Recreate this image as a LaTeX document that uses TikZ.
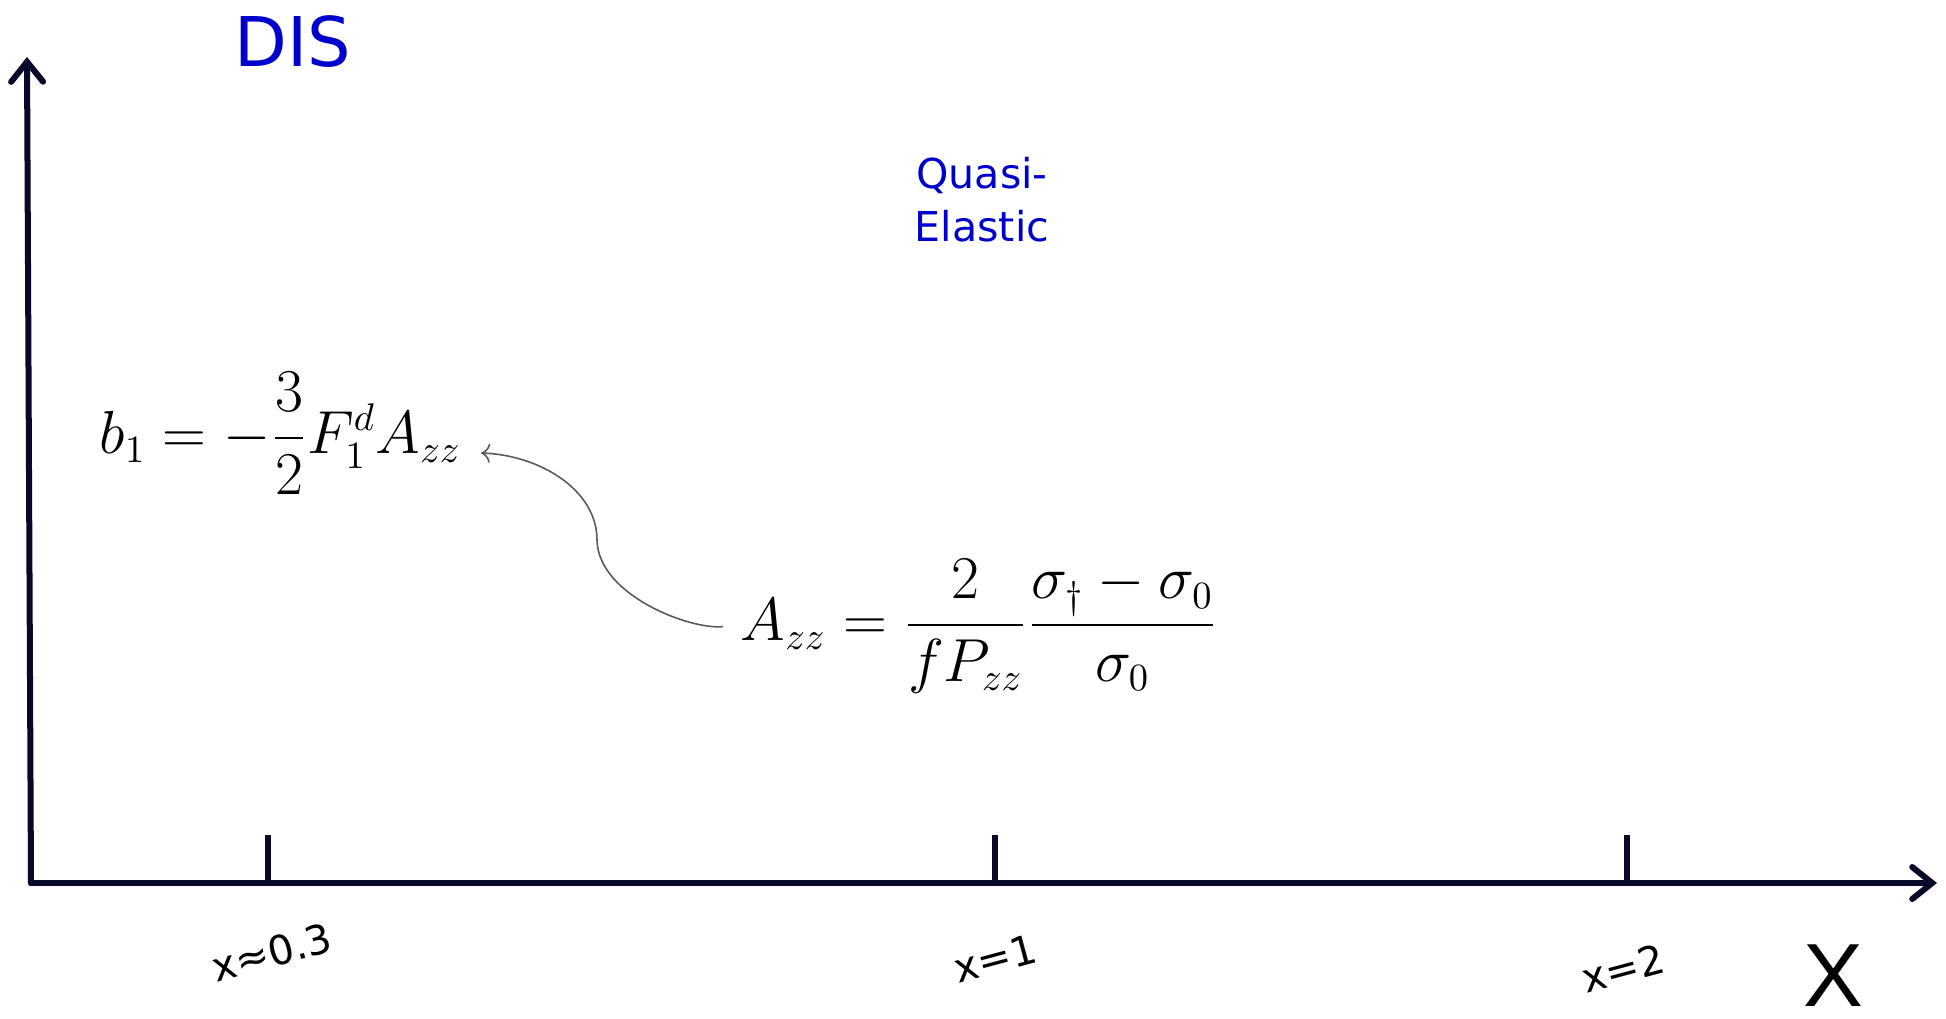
\documentclass[tikz,border=0pt]{standalone}
\usepackage{amsmath,amssymb}
\usepackage{fontspec}
\usepackage{tikz}
\usetikzlibrary{arrows.meta,calc,positioning}

\newfontfamily\regionfont{DejaVu Sans}
\newfontfamily\axisfont{Liberation Sans}
\definecolor{axisnavy}{RGB}{8,8,40}
\definecolor{regionblue}{RGB}{0,0,204}

\begin{document}
\begin{tikzpicture}[
  x=0.01cm, y=-0.01cm,
  axis/.style={draw=axisnavy, line width=0.06cm, line cap=round,
    -{Straight Barb[length=0.2cm, width=0.32cm, line cap=round]}},
  tick/.style={draw=axisnavy, line width=0.06cm},
  ticklabel/.style={font=\regionfont\fontsize{11.5}{13}\selectfont, rotate=15, inner sep=0pt},
  region/.style={text=regionblue, align=center, inner sep=0pt},
  formula/.style={inner sep=0pt, anchor=base west},
  link/.style={draw=black!65, line width=0.45pt, ->}
]
\useasboundingbox (0,0) rectangle (1946,1018);

% axes
\coordinate (o) at (31,883);
\coordinate (ytop) at (27,57);
\coordinate (xend) at (1937,883);
\draw[axis] (o) -- (ytop);
\draw[axis] (o) -- (xend);

% ticks
\coordinate (t1) at (268,883);
\coordinate (t2) at (995,883);
\coordinate (t3) at (1627,883);
\draw[tick] (t1) -- ++(0,-48);
\draw[tick] (t2) -- ++(0,-48);
\draw[tick] (t3) -- ++(0,-48);

\node[ticklabel] (l1) at (272,952) {x≈0.3};
\node[ticklabel] (l2) at (995,958) {x=1};
\node[ticklabel] (l3) at (1623,968) {x=2};
\node[inner sep=0pt, font=\axisfont\fontsize{25.5}{28}\selectfont] (xlab) at (1833,976) {X};

% regions
\node[region, font=\regionfont\fontsize{19.5}{22}\selectfont] (dis) at (293,42) {DIS};
\node[region, font=\regionfont\fontsize{11.7}{15}\selectfont] (qe) at (982,200) {Quasi-\\Elastic};

% formulas
\node[formula, inner xsep=0.19cm, font=\fontsize{16}{20}\selectfont] (bone) at (80,453)
  {$b_1 = -\dfrac{3}{2}F_1^d A_{zz}$};
\node[formula, inner xsep=0.17cm, font=\fontsize{16.2}{20}\selectfont] (azz) at (723,640)
  {$\displaystyle A_{zz} = \frac{2}{fP_{zz}}\frac{\sigma_\dagger - \sigma_0}{\sigma_0}$};

\draw[link] (azz.west) .. controls (690,630) and (598,595) .. (597,540)
  .. controls (597,490) and (540,455) .. (bone.base east);
\end{tikzpicture}
\end{document}
